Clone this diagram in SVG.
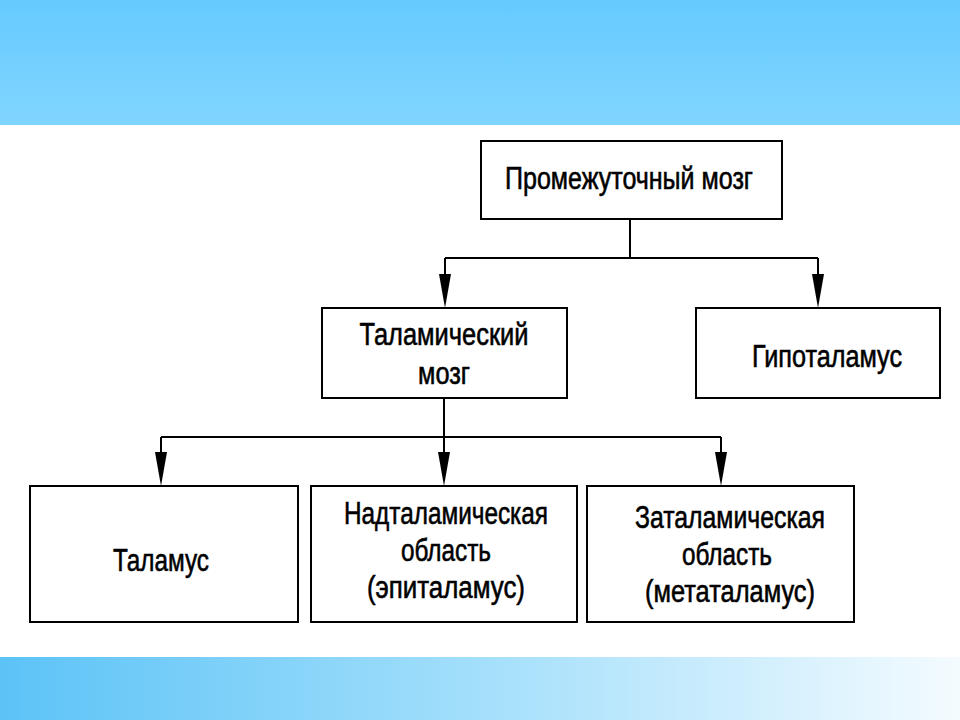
<svg xmlns="http://www.w3.org/2000/svg" width="960" height="720" viewBox="0 0 960 720">
<defs>
<linearGradient id="topband" x1="0" y1="0" x2="0" y2="1">
<stop offset="0" stop-color="#66caff"/>
<stop offset="1" stop-color="#80d5ff"/>
</linearGradient>
<linearGradient id="botband" x1="0" y1="0" x2="1" y2="0">
<stop offset="0" stop-color="#5cc3f7"/>
<stop offset="0.5" stop-color="#a3dffb"/>
<stop offset="1" stop-color="#f4fbff"/>
</linearGradient>
<style>
.box{fill:#fff;stroke:#000;stroke-width:2}
.ln{fill:none;stroke:#000;stroke-width:2}
.t{font-family:"Liberation Sans","Arial",sans-serif;font-size:31px;fill:#000;stroke:#000;stroke-width:0.6;text-anchor:middle}
</style>
</defs>
<rect x="0" y="0" width="960" height="720" fill="#fff"/>
<rect x="0" y="0" width="960" height="125" fill="url(#topband)"/>
<rect x="0" y="657" width="960" height="63" fill="url(#botband)"/>

<g id="connectors">
<path class="ln" d="M630,219 V258 M445,258 H818"/>
<path class="ln" d="M445,258 V274"/>
<path class="ln" d="M818,258 V274"/>
<polygon points="439,274 451,274 445,308" fill="#000"/>
<polygon points="812,274 824,274 818,308" fill="#000"/>
<path class="ln" d="M444,398 V437 M161,437 H721"/>
<path class="ln" d="M161,437 V452 M444,437 V452 M721,437 V452"/>
<polygon points="155,452 167,452 161,486" fill="#000"/>
<polygon points="438,452 450,452 444,486" fill="#000"/>
<polygon points="715,452 727,452 721,486" fill="#000"/>
</g>

<g id="n-promezh">
<rect class="box" x="481" y="141" width="301" height="78"/>
<text class="t" x="629" y="189" textLength="248" lengthAdjust="spacingAndGlyphs">Промежуточный мозг</text>
</g>
<g id="n-talam-mozg">
<rect class="box" x="322" y="308" width="245" height="90"/>
<text class="t" x="444" y="345" textLength="169" lengthAdjust="spacingAndGlyphs">Таламический</text>
<text class="t" x="444" y="384" textLength="52" lengthAdjust="spacingAndGlyphs">мозг</text>
</g>
<g id="n-gipo">
<rect class="box" x="696" y="308" width="244" height="90"/>
<text class="t" x="827" y="367" textLength="150" lengthAdjust="spacingAndGlyphs">Гипоталамус</text>
</g>
<g id="n-talamus">
<rect class="box" x="30" y="486" width="268" height="136"/>
<text class="t" x="161" y="571" textLength="96" lengthAdjust="spacingAndGlyphs">Таламус</text>
</g>
<g id="n-nadtal">
<rect class="box" x="311" y="486" width="266" height="136"/>
<text class="t" x="446" y="524" textLength="204" lengthAdjust="spacingAndGlyphs">Надталамическая</text>
<text class="t" x="446" y="561" textLength="90" lengthAdjust="spacingAndGlyphs">область</text>
<text class="t" x="446" y="598" textLength="158" lengthAdjust="spacingAndGlyphs">(эпиталамус)</text>
</g>
<g id="n-zatal">
<rect class="box" x="587" y="486" width="267" height="136"/>
<text class="t" x="730" y="528" textLength="190" lengthAdjust="spacingAndGlyphs">Заталамическая</text>
<text class="t" x="727" y="565" textLength="90" lengthAdjust="spacingAndGlyphs">область</text>
<text class="t" x="730" y="602" textLength="170" lengthAdjust="spacingAndGlyphs">(метаталамус)</text>
</g>
</svg>
